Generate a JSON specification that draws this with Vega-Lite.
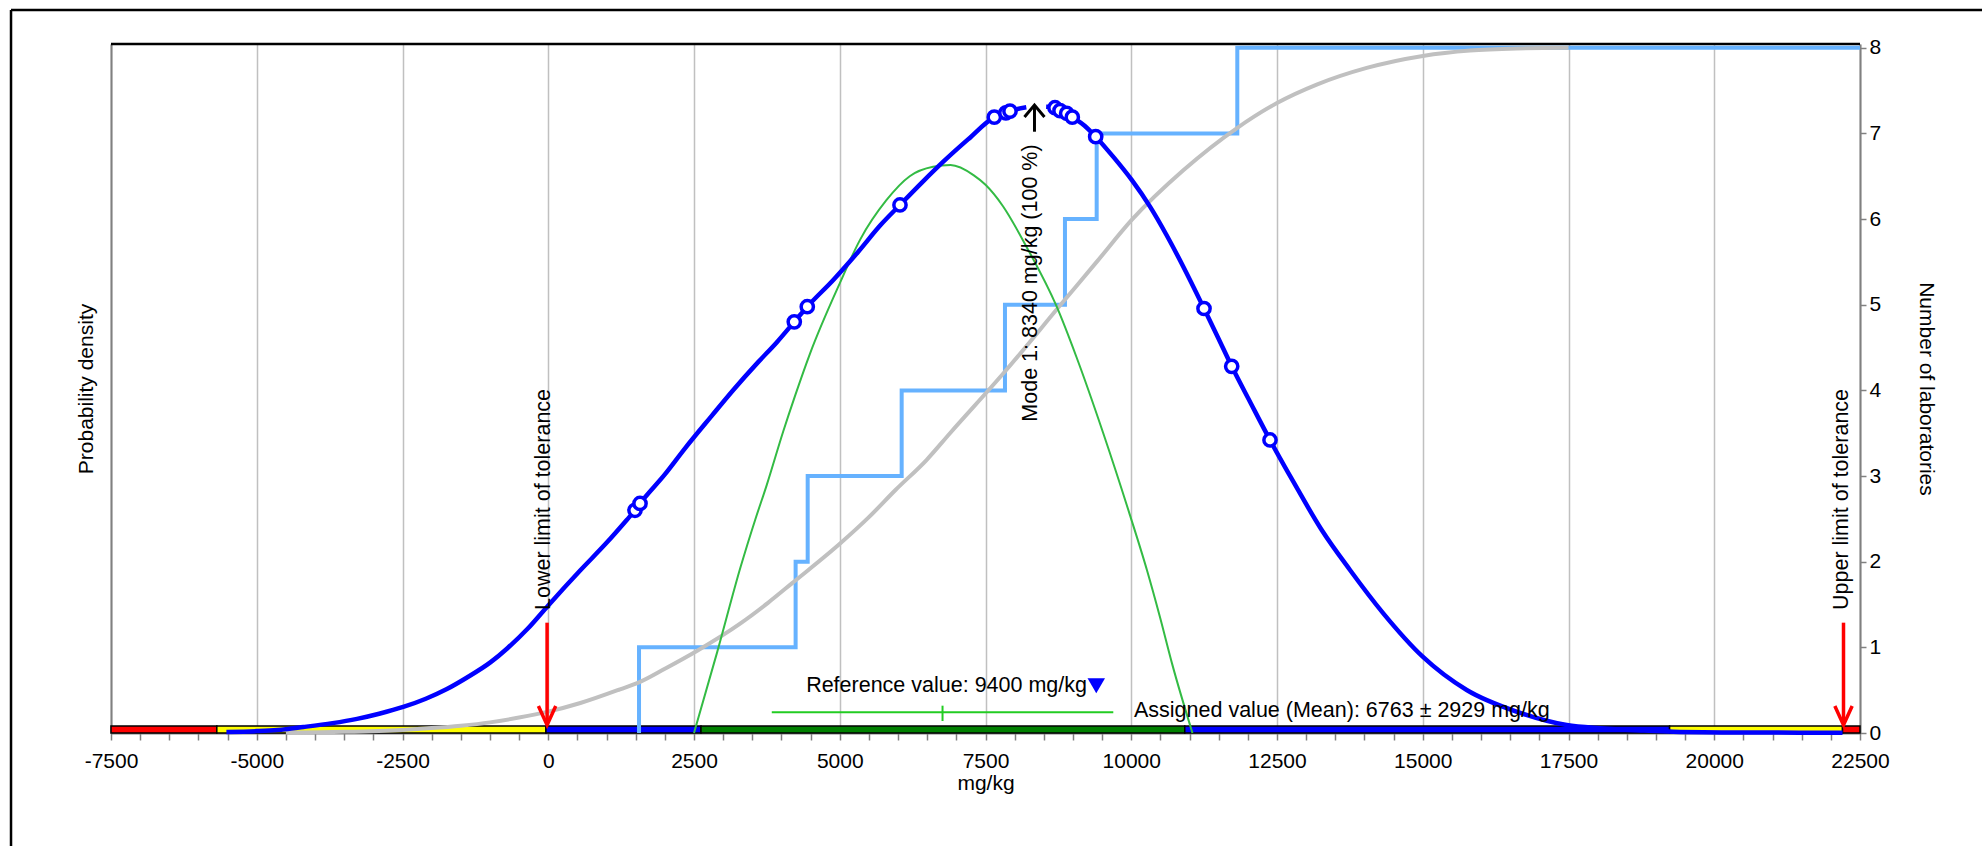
{
  "$schema": "https://vega.github.io/schema/vega-lite/v6.json",
  "width": 1749,
  "height": 689,
  "autosize": {"type": "none"},
  "padding": {"left": 111, "top": 44, "right": 122, "bottom": 113},
  "background": "white",
  "config": {
    "font": "Liberation Sans",
    "view": {"stroke": null},
    "axis": {"labelFont": "Liberation Sans", "titleFont": "Liberation Sans", "labelColor": "black", "titleColor": "black", "titleFontWeight": "normal", "labelFontSize": 21, "titleFontSize": 21}
  },
  "datasets": {
    "density": [
      {"x": -5520, "y": 0.012, "seg": 1}, {"x": -5000, "y": 0.022, "seg": 1}, {"x": -4650, "y": 0.035, "seg": 1}, {"x": -4200, "y": 0.07, "seg": 1},
      {"x": -3700, "y": 0.115, "seg": 1}, {"x": -3280, "y": 0.165, "seg": 1}, {"x": -2900, "y": 0.225, "seg": 1}, {"x": -2474, "y": 0.307, "seg": 1},
      {"x": -2100, "y": 0.4, "seg": 1}, {"x": -1747, "y": 0.51, "seg": 1}, {"x": -1400, "y": 0.645, "seg": 1}, {"x": -982, "y": 0.83, "seg": 1},
      {"x": -700, "y": 0.99, "seg": 1}, {"x": -350, "y": 1.22, "seg": 1}, {"x": 0, "y": 1.49, "seg": 1}, {"x": 551, "y": 1.9, "seg": 1}, {"x": 1000, "y": 2.22, "seg": 1},
      {"x": 1346, "y": 2.487, "seg": 1}, {"x": 1488, "y": 2.6, "seg": 1}, {"x": 1574, "y": 2.68, "seg": 1}, {"x": 2000, "y": 3.02, "seg": 1},
      {"x": 2346, "y": 3.324, "seg": 1}, {"x": 2800, "y": 3.7, "seg": 1}, {"x": 3174, "y": 4.005, "seg": 1}, {"x": 3600, "y": 4.33, "seg": 1},
      {"x": 3918, "y": 4.56, "seg": 1}, {"x": 4220, "y": 4.8, "seg": 1}, {"x": 4443, "y": 4.977, "seg": 1}, {"x": 4889, "y": 5.289, "seg": 1},
      {"x": 5318, "y": 5.619, "seg": 1}, {"x": 5700, "y": 5.93, "seg": 1}, {"x": 6033, "y": 6.165, "seg": 1}, {"x": 6400, "y": 6.42, "seg": 1},
      {"x": 6776, "y": 6.67, "seg": 1}, {"x": 7200, "y": 6.93, "seg": 1}, {"x": 7651, "y": 7.19, "seg": 1}, {"x": 7850, "y": 7.24, "seg": 1},
      {"x": 7920, "y": 7.26, "seg": 1}, {"x": 8200, "y": 7.305, "seg": 1},
      {"x": 8540, "y": 7.31, "seg": 2}, {"x": 8692, "y": 7.3, "seg": 2}, {"x": 8778, "y": 7.266, "seg": 2}, {"x": 8892, "y": 7.235, "seg": 2},
      {"x": 8989, "y": 7.19, "seg": 2}, {"x": 9200, "y": 7.09, "seg": 2}, {"x": 9390, "y": 6.962, "seg": 2}, {"x": 9700, "y": 6.72, "seg": 2},
      {"x": 10008, "y": 6.457, "seg": 2}, {"x": 10322, "y": 6.145, "seg": 2}, {"x": 10600, "y": 5.82, "seg": 2}, {"x": 10893, "y": 5.444, "seg": 2},
      {"x": 11248, "y": 4.956, "seg": 2}, {"x": 11500, "y": 4.6, "seg": 2}, {"x": 11723, "y": 4.281, "seg": 2}, {"x": 12050, "y": 3.85, "seg": 2},
      {"x": 12380, "y": 3.421, "seg": 2}, {"x": 12780, "y": 2.934, "seg": 2}, {"x": 13267, "y": 2.37, "seg": 2}, {"x": 13752, "y": 1.903, "seg": 2},
      {"x": 14323, "y": 1.397, "seg": 2}, {"x": 14999, "y": 0.891, "seg": 2}, {"x": 15754, "y": 0.502, "seg": 2}, {"x": 16611, "y": 0.249, "seg": 2},
      {"x": 17469, "y": 0.093, "seg": 2}, {"x": 18040, "y": 0.055, "seg": 2}, {"x": 18800, "y": 0.028, "seg": 2}, {"x": 19300, "y": 0.015, "seg": 2},
      {"x": 20500, "y": 0.006, "seg": 2}, {"x": 22200, "y": 0.003, "seg": 2}
    ],
    "labs": [
      {"x": 1488, "y": 2.6}, {"x": 1574, "y": 2.68}, {"x": 4220, "y": 4.8}, {"x": 4443, "y": 4.977},
      {"x": 6033, "y": 6.165}, {"x": 7651, "y": 7.19}, {"x": 7850, "y": 7.24}, {"x": 7920, "y": 7.26},
      {"x": 8692, "y": 7.3}, {"x": 8778, "y": 7.266}, {"x": 8892, "y": 7.235}, {"x": 8989, "y": 7.19},
      {"x": 9390, "y": 6.962}, {"x": 11248, "y": 4.956}, {"x": 11723, "y": 4.281}, {"x": 12380, "y": 3.421}
    ],
    "cdf": [
      {"x": -4500, "y": 0.005}, {"x": -3500, "y": 0.014}, {"x": -2500, "y": 0.036}, {"x": -2000, "y": 0.057},
      {"x": -1500, "y": 0.085}, {"x": -1000, "y": 0.124}, {"x": -500, "y": 0.18}, {"x": 0, "y": 0.249}, {"x": 551, "y": 0.35},
      {"x": 1231, "y": 0.51}, {"x": 1584, "y": 0.6}, {"x": 2000, "y": 0.75}, {"x": 2541, "y": 0.955},
      {"x": 3297, "y": 1.28}, {"x": 3769, "y": 1.52}, {"x": 4184, "y": 1.75}, {"x": 5011, "y": 2.215},
      {"x": 5500, "y": 2.52}, {"x": 5956, "y": 2.837}, {"x": 6488, "y": 3.187}, {"x": 6891, "y": 3.5},
      {"x": 7834, "y": 4.22}, {"x": 8778, "y": 4.99}, {"x": 9407, "y": 5.5}, {"x": 10008, "y": 5.99},
      {"x": 10893, "y": 6.57}, {"x": 11808, "y": 7.06}, {"x": 12500, "y": 7.355}, {"x": 13181, "y": 7.57},
      {"x": 14039, "y": 7.765}, {"x": 15000, "y": 7.905}, {"x": 15810, "y": 7.968}, {"x": 16611, "y": 7.992},
      {"x": 17500, "y": 8.0}
    ],
    "steps": [
      {"i": 0, "x": 1557, "y": 0}, {"i": 1, "x": 1557, "y": 1}, {"i": 2, "x": 4243, "y": 1}, {"i": 3, "x": 4243, "y": 2},
      {"i": 4, "x": 4450, "y": 2}, {"i": 5, "x": 4450, "y": 3}, {"i": 6, "x": 6062, "y": 3}, {"i": 7, "x": 6062, "y": 4},
      {"i": 8, "x": 7834, "y": 4}, {"i": 9, "x": 7834, "y": 5}, {"i": 10, "x": 8863, "y": 5}, {"i": 11, "x": 8863, "y": 6},
      {"i": 12, "x": 9407, "y": 6}, {"i": 13, "x": 9407, "y": 7}, {"i": 14, "x": 11819, "y": 7}, {"i": 15, "x": 11819, "y": 8},
      {"i": 16, "x": 22500, "y": 8}
    ],
    "green": [
      {"x": 2500, "y": 0}, {"x": 2900, "y": 0.95}, {"x": 3300, "y": 1.94}, {"x": 3550, "y": 2.49}, {"x": 3750, "y": 2.9},
      {"x": 4030, "y": 3.52}, {"x": 4230, "y": 3.93}, {"x": 4490, "y": 4.43}, {"x": 5000, "y": 5.25}, {"x": 5350, "y": 5.76},
      {"x": 5800, "y": 6.22}, {"x": 6200, "y": 6.5}, {"x": 6600, "y": 6.61}, {"x": 6900, "y": 6.63}, {"x": 7300, "y": 6.51},
      {"x": 7500, "y": 6.4}, {"x": 7800, "y": 6.15}, {"x": 8200, "y": 5.68}, {"x": 8720, "y": 4.98}, {"x": 9060, "y": 4.39},
      {"x": 9520, "y": 3.5}, {"x": 9975, "y": 2.55}, {"x": 10270, "y": 1.9}, {"x": 10490, "y": 1.36}, {"x": 10700, "y": 0.81},
      {"x": 11050, "y": 0}
    ],
    "band": [
      {"x": -7500, "x2": -5685, "zone": "outside"}, {"x": -5685, "x2": -40, "zone": "questionable"},
      {"x": -40, "x2": 2620, "zone": "acceptable"}, {"x": 2620, "x2": 10918, "zone": "good"},
      {"x": 10918, "x2": 19234, "zone": "acceptable"}, {"x": 19234, "x2": 22200, "zone": "questionable"},
      {"x": 22200, "x2": 22500, "zone": "outside"}
    ]
  },
  "resolve": {"axis": {"y": "independent"}},
  "layer": [
    {
      "data": {"values": [{}]},
      "mark": {"type": "rule", "color": "black", "strokeWidth": 2.5},
      "encoding": {
        "x": {"datum": -9215, "scale": {"domain": [-7500, 22500], "nice": false, "zero": false}},
        "y": {"datum": -1.5, "scale": {"domain": [0, 8.044], "nice": false, "zero": false}, "axis": null},
        "y2": {"datum": 8.44}
      }
    },
    {
      "data": {"values": [{}]},
      "mark": {"type": "rule", "color": "black", "strokeWidth": 2.5},
      "encoding": {
        "x": {"datum": -9215, "scale": {"domain": [-7500, 22500], "nice": false, "zero": false}},
        "x2": {"datum": 26000},
        "y": {"datum": 8.44, "scale": {"domain": [0, 8.044], "nice": false, "zero": false}, "axis": null}
      }
    },
    {
      "data": {"name": "band"},
      "mark": {"type": "rect", "stroke": "black", "strokeWidth": 1.5},
      "encoding": {
        "x": {"field": "x", "type": "quantitative", "scale": {"domain": [-7500, 22500], "nice": false, "zero": false},
          "axis": {
            "orient": "bottom", "title": "mg/kg", "titlePadding": 1, "tickCount": 200,
            "values": [-7500,-7000,-6500,-6000,-5500,-5000,-4500,-4000,-3500,-3000,-2500,-2000,-1500,-1000,-500,0,500,1000,1500,2000,2500,3000,3500,4000,4500,5000,5500,6000,6500,7000,7500,8000,8500,9000,9500,10000,10500,11000,11500,12000,12500,13000,13500,14000,14500,15000,15500,16000,16500,17000,17500,18000,18500,19000,19500,20000,20500,21000,21500,22000,22500],
            "labelExpr": "datum.value % 2500 === 0 ? '' + datum.value : ''",
            "labelOverlap": false, "labelFlush": false, "labelPadding": 10,
            "tickSize": 7, "tickColor": "#808080", "tickWidth": 1.5,
            "domainColor": "#808080", "domainWidth": 2,
            "grid": true, "gridColor": "#c0c0c0", "gridWidth": 1.5,
            "gridOpacity": {"condition": {"test": "datum.value % 2500 === 0", "value": 1}, "value": 0}
          }},
        "x2": {"field": "x2"},
        "y": {"datum": 0, "scale": {"domain": [0, 8.044], "nice": false, "zero": false}, "axis": null},
        "y2": {"datum": 0.082},
        "color": {"field": "zone", "type": "nominal", "legend": null,
          "scale": {"domain": ["outside", "questionable", "acceptable", "good"], "range": ["#ff0000", "#ffff00", "#0000ff", "#008000"]}}
      }
    },
    {
      "data": {"values": [{}]},
      "mark": {"type": "rule", "color": "black", "strokeWidth": 2.5},
      "encoding": {
        "x": {"datum": -7500, "scale": {"domain": [-7500, 22500], "nice": false, "zero": false}},
        "x2": {"datum": 22500},
        "y": {"datum": 8.044, "scale": {"domain": [0, 8.044], "nice": false, "zero": false}, "axis": null}
      }
    },
    {
      "data": {"name": "steps"},
      "mark": {"type": "line", "color": "#66b2ff", "strokeWidth": 4},
      "encoding": {
        "x": {"field": "x", "type": "quantitative", "scale": {"domain": [-7500, 22500], "nice": false, "zero": false}},
        "y": {"field": "y", "type": "quantitative", "scale": {"domain": [0, 8.044], "nice": false, "zero": false},
          "axis": {"orient": "right", "title": "Number of laboratories", "values": [0,1,2,3,4,5,6,7,8], "format": "d",
            "grid": false, "tickSize": 6, "tickColor": "#808080", "tickWidth": 1.5, "labelPadding": 3,
            "domainColor": "#808080", "domainWidth": 2, "titlePadding": 35}},
        "order": {"field": "i", "type": "quantitative"}
      }
    },
    {
      "data": {"name": "cdf"},
      "mark": {"type": "line", "color": "#c0c0c0", "strokeWidth": 4, "interpolate": "monotone"},
      "encoding": {
        "x": {"field": "x", "type": "quantitative", "scale": {"domain": [-7500, 22500], "nice": false, "zero": false}},
        "y": {"field": "y", "type": "quantitative", "scale": {"domain": [0, 8.044], "nice": false, "zero": false},
          "axis": {"orient": "left", "title": "Probability density", "labels": false, "ticks": false, "grid": false,
            "domainColor": "#808080", "domainWidth": 2, "titlePadding": 15}}
      }
    },
    {
      "data": {"name": "green"},
      "mark": {"type": "line", "color": "#33bb44", "strokeWidth": 2, "interpolate": "monotone"},
      "encoding": {
        "x": {"field": "x", "type": "quantitative", "scale": {"domain": [-7500, 22500], "nice": false, "zero": false}},
        "y": {"field": "y", "type": "quantitative", "scale": {"domain": [0, 8.044], "nice": false, "zero": false}, "axis": null}
      }
    },
    {
      "data": {"name": "density"},
      "mark": {"type": "line", "color": "#0000ff", "strokeWidth": 4.5, "interpolate": "monotone"},
      "encoding": {
        "x": {"field": "x", "type": "quantitative", "scale": {"domain": [-7500, 22500], "nice": false, "zero": false}},
        "y": {"field": "y", "type": "quantitative", "scale": {"domain": [0, 8.044], "nice": false, "zero": false}, "axis": null},
        "detail": {"field": "seg", "type": "nominal"}
      }
    },
    {
      "data": {"name": "labs"},
      "mark": {"type": "point", "shape": "circle", "filled": true, "fill": "white", "stroke": "#0000ff", "strokeWidth": 3.5, "size": 150, "opacity": 1},
      "encoding": {
        "x": {"field": "x", "type": "quantitative", "scale": {"domain": [-7500, 22500], "nice": false, "zero": false}},
        "y": {"field": "y", "type": "quantitative", "scale": {"domain": [0, 8.044], "nice": false, "zero": false}, "axis": null}
      }
    },
    {
      "data": {"values": [{"lo": 3834, "hi": 9692, "y": 0.242}]},
      "mark": {"type": "rule", "color": "#22cc22", "strokeWidth": 2},
      "encoding": {
        "x": {"field": "lo", "type": "quantitative", "scale": {"domain": [-7500, 22500], "nice": false, "zero": false}},
        "x2": {"field": "hi"},
        "y": {"field": "y", "type": "quantitative", "scale": {"domain": [0, 8.044], "nice": false, "zero": false}, "axis": null}
      }
    },
    {
      "data": {"values": [{"x": 6763, "lo": 0.14, "hi": 0.319}]},
      "mark": {"type": "rule", "color": "#22cc22", "strokeWidth": 2},
      "encoding": {
        "x": {"field": "x", "type": "quantitative", "scale": {"domain": [-7500, 22500], "nice": false, "zero": false}},
        "y": {"field": "lo", "type": "quantitative", "scale": {"domain": [0, 8.044], "nice": false, "zero": false}, "axis": null},
        "y2": {"field": "hi"}
      }
    },
    {
      "data": {"values": [{"x": -20, "lo": 0.12, "hi": 1.288}, {"x": 22217, "lo": 0.12, "hi": 1.288}]},
      "mark": {"type": "rule", "color": "#ff0000", "strokeWidth": 3.5},
      "encoding": {
        "x": {"field": "x", "type": "quantitative", "scale": {"domain": [-7500, 22500], "nice": false, "zero": false}},
        "y": {"field": "lo", "type": "quantitative", "scale": {"domain": [0, 8.044], "nice": false, "zero": false}, "axis": null},
        "y2": {"field": "hi"}
      }
    },
    {
      "data": {"values": [{"x": -20, "y": 0.204}, {"x": 22217, "y": 0.204}]},
      "mark": {"type": "point", "shape": "M-1,-1.1L0,1.1L1,-1.1", "filled": false, "stroke": "#ff0000", "strokeWidth": 3.5, "size": 300, "opacity": 1},
      "encoding": {
        "x": {"field": "x", "type": "quantitative", "scale": {"domain": [-7500, 22500], "nice": false, "zero": false}},
        "y": {"field": "y", "type": "quantitative", "scale": {"domain": [0, 8.044], "nice": false, "zero": false}, "axis": null}
      }
    },
    {
      "data": {"values": [{"x": 8340, "lo": 7.02, "hi": 7.32}]},
      "mark": {"type": "rule", "color": "black", "strokeWidth": 3},
      "encoding": {
        "x": {"field": "x", "type": "quantitative", "scale": {"domain": [-7500, 22500], "nice": false, "zero": false}},
        "y": {"field": "lo", "type": "quantitative", "scale": {"domain": [0, 8.044], "nice": false, "zero": false}, "axis": null},
        "y2": {"field": "hi"}
      }
    },
    {
      "data": {"values": [{"x": 8340, "y": 7.262}]},
      "mark": {"type": "point", "shape": "M-1,0.6L0,-0.6L1,0.6", "filled": false, "stroke": "black", "strokeWidth": 3, "size": 400, "opacity": 1},
      "encoding": {
        "x": {"field": "x", "type": "quantitative", "scale": {"domain": [-7500, 22500], "nice": false, "zero": false}},
        "y": {"field": "y", "type": "quantitative", "scale": {"domain": [0, 8.044], "nice": false, "zero": false}, "axis": null}
      }
    },
    {
      "data": {"values": [{"x": 9400, "y": 0.551}]},
      "mark": {"type": "point", "shape": "M-1,-0.85L1,-0.85L0,0.85Z", "filled": true, "color": "#0000ff", "size": 306, "opacity": 1},
      "encoding": {
        "x": {"field": "x", "type": "quantitative", "scale": {"domain": [-7500, 22500], "nice": false, "zero": false}},
        "y": {"field": "y", "type": "quantitative", "scale": {"domain": [0, 8.044], "nice": false, "zero": false}, "axis": null}
      }
    },
    {
      "data": {"values": [
        {"x": 30, "y": 1.436, "label": "Lower limit of tolerance"},
        {"x": 22290, "y": 1.436, "label": "Upper limit of tolerance"},
        {"x": 8375, "y": 3.635, "label": "Mode 1: 8340 mg/kg (100 %)"}
      ]},
      "mark": {"type": "text", "angle": 270, "align": "left", "baseline": "alphabetic", "fontSize": 21.5, "font": "Liberation Sans", "color": "black"},
      "encoding": {
        "x": {"field": "x", "type": "quantitative", "scale": {"domain": [-7500, 22500], "nice": false, "zero": false}},
        "y": {"field": "y", "type": "quantitative", "scale": {"domain": [0, 8.044], "nice": false, "zero": false}, "axis": null},
        "text": {"field": "label"}
      }
    },
    {
      "data": {"values": [{"x": 9241, "y": 0.482, "label": "Reference value: 9400 mg/kg"}]},
      "mark": {"type": "text", "align": "right", "baseline": "alphabetic", "fontSize": 21.5, "font": "Liberation Sans", "color": "black"},
      "encoding": {
        "x": {"field": "x", "type": "quantitative", "scale": {"domain": [-7500, 22500], "nice": false, "zero": false}},
        "y": {"field": "y", "type": "quantitative", "scale": {"domain": [0, 8.044], "nice": false, "zero": false}, "axis": null},
        "text": {"field": "label"}
      }
    },
    {
      "data": {"values": [{"x": 10047, "y": 0.181, "label": "Assigned value (Mean): 6763 ± 2929 mg/kg"}]},
      "mark": {"type": "text", "align": "left", "baseline": "alphabetic", "fontSize": 21.5, "font": "Liberation Sans", "color": "black"},
      "encoding": {
        "x": {"field": "x", "type": "quantitative", "scale": {"domain": [-7500, 22500], "nice": false, "zero": false}},
        "y": {"field": "y", "type": "quantitative", "scale": {"domain": [0, 8.044], "nice": false, "zero": false}, "axis": null},
        "text": {"field": "label"}
      }
    }
  ]
}
